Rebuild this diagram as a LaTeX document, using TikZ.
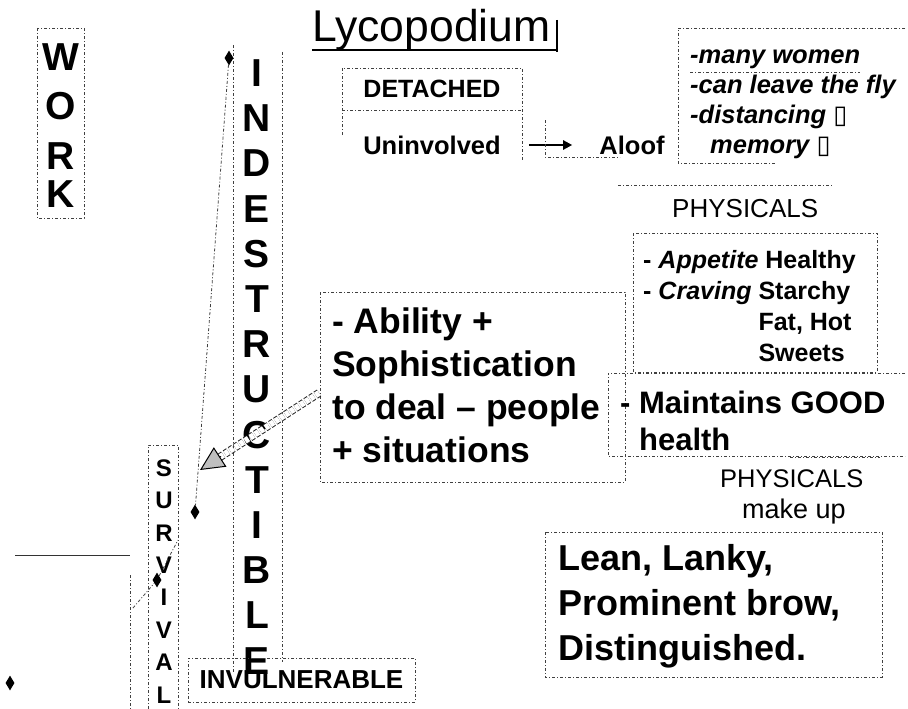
\documentclass[tikz,border=0pt]{standalone}
\usepackage{fontspec}
\setmainfont{Liberation Sans}
\newfontfamily\symfont{DejaVu Sans}
\usetikzlibrary{arrows.meta,shapes.geometric,calc}
\newcommand{\missglyph}{{\symfont\char"25AF}}

\begin{document}
\begin{tikzpicture}
  [x=1pt, y=-1pt,
   every node/.style={inner sep=0pt},
   edge/.style={draw=black!75, line width=0.8pt, dash pattern=on 3pt off 2pt on 1pt off 2pt},
   big/.style={font=\bfseries\fontsize{36}{45}\selectfont, align=left, anchor=base west},
   mid/.style={font=\bfseries\fontsize{25}{31}\selectfont, align=left, anchor=base west},
   plain/.style={font=\fontsize{26}{30}\selectfont, anchor=base west},
   vletter/.style={font=\bfseries\fontsize{39}{39}\selectfont},
   sletter/.style={font=\bfseries\fontsize{24}{24}\selectfont},
   tack/.style={diamond, fill=black, minimum width=9pt, minimum height=15pt}]

  \useasboundingbox (0,0) rectangle (908,709);

  % title (multi-line nodes sit on their last baseline)
  \node[font=\fontsize{44.5}{50}\selectfont, anchor=base west] (title) at (312,42) {Lycopodium};
  \draw[line width=1.6pt] ([yshift=-8pt]title.base west) -- (558,50);
  \draw[line width=1.6pt] (557,20) -- (557,52);

  % columns of letters
  \foreach \ch/\yy [count=\i] in {W/57,O/106,R/156,K/194}
    \node[vletter] (work-\i) at (61,\yy) {\ch};
  \draw[edge] (37,28) rectangle (84,218);

  \foreach \ch [count=\i] in {I,N,D,E,S,T,R,U,C,T,I,B,L,E}
    \node[vletter] (ind-\i) at (257,{73+45.2*(\i-1)}) {\ch};
  \draw[edge] (233,45) -- (233,673);
  \draw[edge] (282,52) -- (282,662);

  \foreach \ch [count=\i] in {S,U,R,V,I,V,A,L}
    \node[sletter] (surv-\i) at (164,{468+32.4*(\i-1)}) {\ch};
  \draw[edge] (148,709) -- (148,445) -- (178,445) -- (178,709);

  \node[draw=black!75, line width=0.8pt, dash pattern=on 3pt off 2pt on 1pt off 2pt,
        minimum width=227pt, minimum height=44pt,
        font=\bfseries\fontsize{26}{26}\selectfont] (invuln) at (301.5,680) {INVULNERABLE};

  % detached
  \node[font=\bfseries\fontsize{25}{25}\selectfont] (detached) at (432,89) {DETACHED};
  \draw[edge] (342,135) -- (342,68) -- (522,68) -- (522,160);
  \draw[edge] (342,110) -- (522,110);
  \node[font=\bfseries\fontsize{25.5}{25.5}\selectfont] (uninvolved) at (432,145) {Uninvolved};
  \node[font=\bfseries\fontsize{25.5}{25.5}\selectfont] (aloof) at (632,145) {Aloof};
  \draw[line width=2.4pt, -{Triangle[length=9pt,width=9pt]}, shorten <=28pt, shorten >=27pt]
    (uninvolved) -- (aloof);
  \draw[edge] (545,120) -- (545,157) -- (620,157);

  \draw[edge] (905,28) -- (678,28) -- (678,163) -- (775,163);
  \draw[edge] (690,72) -- (860,72);
  \node[mid, font=\bfseries\itshape\fontsize{25.5}{30}\selectfont] (women) at (690,153)
    {-many women\\-can leave the fly\\-distancing \missglyph\\\hspace{20pt}memory \missglyph};

  % physicals
  \draw[edge] (618,185) -- (833,185);
  \node[plain] (phys-top) at (672,217) {PHYSICALS};
  \draw[edge] (633,233) rectangle (877,372);
  \node[mid] (diet) at (643,361)
    {- \textit{Appetite} Healthy\\- \textit{Craving} Starchy\\\phantom{- \textit{Craving} }Fat, Hot\\\phantom{- \textit{Craving} }Sweets};

  \draw[edge] (320,292) rectangle (625,482);
  \node[big, font=\bfseries\fontsize{35.5}{43}\selectfont] (ability) at (332,462)
    {- Ability +\\Sophistication\\to deal – people\\+ situations};

  \draw[edge] (905,373) -- (608,373) -- (608,456) -- (905,456);
  \node[big, font=\bfseries\fontsize{31}{37}\selectfont] (health) at (620,450)
    {- Maintains GOOD\\\phantom{- }health};

  \draw[edge] (790,457) -- (880,457);
  \node[plain, font=\fontsize{25.5}{30}\selectfont] (phys-low) at (720,487) {PHYSICALS};
  \node[plain, font=\fontsize{27}{30}\selectfont] (makeup) at (742,518) {make up};
  \draw[edge] (545,532) rectangle (882,677);
  \node[big] (lean) at (558,660) {Lean, Lanky,\\Prominent brow,\\Distinguished.};

  % hollow arrow to survival
  \coordinate (arrow-tail) at (319,393);
  \coordinate (arrow-tip) at (200,470);
  \draw[draw=black!85, line width=1pt, dash pattern=on 4pt off 2pt, double=white,
        double distance=6pt, shorten >=23pt] (arrow-tail) -- (arrow-tip);
  \draw[line width=1pt, -{Triangle[fill=black!25, length=24pt, width=23pt]}]
    ($(arrow-tip)!25pt!(arrow-tail)$) -- (arrow-tip);

  % pins and stray lines
  \node[tack] (tack-top) at (229,58) {};
  \node[tack] (tack-low) at (195,512) {};
  \draw[edge] (tack-top) -- (tack-low);
  \node[tack] (tack-mid) at (157,580) {};
  \coordinate (scrap-a) at (133,608);
  \coordinate (scrap-b) at (178,540);
  \draw[edge] (scrap-a) -- (tack-mid) -- (scrap-b);
  \node[tack] (tack-edge) at (10,683) {};
  \draw[black!80, line width=0.8pt] (15,555) -- (130,555);
  \draw[edge] (130,575) -- (130,709);
\end{tikzpicture}
\end{document}
